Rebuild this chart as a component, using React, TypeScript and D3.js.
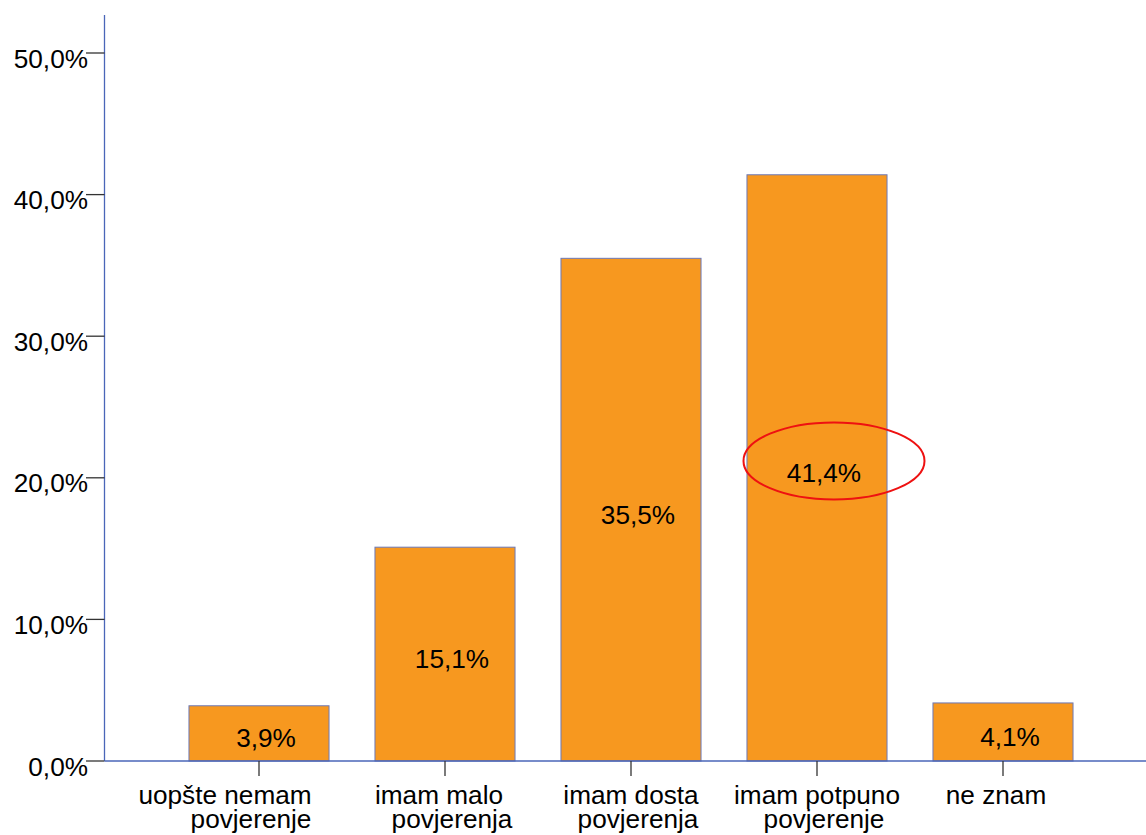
import React from "react";
import * as d3 from "d3";

const categories = ["uopšte nemam povjerenje", "imam malo povjerenja", "imam dosta povjerenja", "imam potpuno povjerenje", "ne znam"];
const labelLines = [["uopšte nemam", "povjerenje"], ["imam malo", "povjerenja"], ["imam dosta", "povjerenja"], ["imam potpuno", "povjerenje"], ["ne znam"]];
const values = [3.9, 15.1, 35.5, 41.4, 4.1];
const valueLabels = ["3,9%", "15,1%", "35,5%", "41,4%", "4,1%"];
const yTicks = [0, 10, 20, 30, 40, 50];
const yTickLabels = ["0,0%", "10,0%", "20,0%", "30,0%", "40,0%", "50,0%"];
const highlighted = "imam potpuno povjerenje";

export default function App() {
  const W = 1146, H = 835;
  const x = d3.scaleBand<string>().domain(categories).range([166, 1096]).paddingInner(0.247).paddingOuter(0.1235);
  const y = d3.scaleLinear().domain([0, 50]).range([761, 53]);
  const axisX = 104.5;
  const font = "'Liberation Sans', Arial, sans-serif";
  const fs = 26.2;
  // per-line horizontal nudges for wrapped category labels (as in reference)
  const lineShift = [[-34, -8], [-6, 7], [0, 7], [0, 7], [-7]];
  return (
    <svg width={W} height={H} style={{ position: "absolute", left: 0, top: 0, background: "#fff" }} fontFamily={font}>
      {/* bars */}
      {categories.map((c, i) => {
        const bx = x(c)!;
        const bw = x.bandwidth();
        const y0 = y(values[i]);
        const mid = (y0 + y(0)) / 2;
        return (
          <g key={c}>
            <rect x={bx} y={y0} width={bw} height={y(0) - y0} fill="#F7981F" stroke="#6C79B8" strokeWidth={1} />
            <text x={bx + bw / 2 + 7} y={mid + 14} textAnchor="middle" fontSize={fs} fill="#000">{valueLabels[i]}</text>
          </g>
        );
      })}
      {/* y axis */}
      <line x1={axisX} x2={axisX} y1={15} y2={y(0)} stroke="#4A66B8" strokeWidth={1.3} />
      {yTicks.map((t, i) => (
        <g key={t}>
          <line x1={86} x2={axisX} y1={y(t)} y2={y(t)} stroke="#333" strokeWidth={1.3} />
          <text x={88} y={y(t) + 14.5} textAnchor="end" fontSize={fs} fill="#000">{yTickLabels[i]}</text>
        </g>
      ))}
      {/* x axis */}
      <line x1={axisX} x2={W} y1={y(0)} y2={y(0)} stroke="#4A66B8" strokeWidth={1.3} />
      {categories.map((c, i) => {
        const cx = x(c)! + x.bandwidth() / 2;
        return (
          <g key={c}>
            <line x1={cx} x2={cx} y1={y(0)} y2={776} stroke="#333" strokeWidth={1.3} />
            <text textAnchor="middle" fontSize={fs} fill="#000">
              {labelLines[i].map((ln, j) => (
                <tspan key={j} x={cx + lineShift[i][j]} y={804 + j * 23.5}>{ln}</tspan>
              ))}
            </text>
          </g>
        );
      })}
      {/* highlight ellipse */}
      {(() => {
        const i = categories.indexOf(highlighted);
        const cx = x(highlighted)! + x.bandwidth() / 2 + 17;
        const cy = (y(values[i]) + y(0)) / 2 - 7;
        return <ellipse cx={cx} cy={cy} rx={90.5} ry={38.5} fill="none" stroke="#EE1111" strokeWidth={2} />;
      })()}
    </svg>
  );
}
